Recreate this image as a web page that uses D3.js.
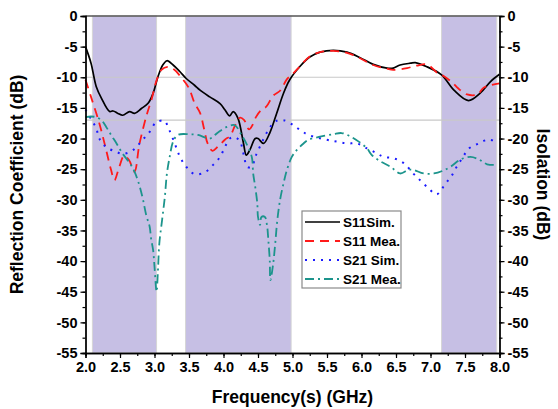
<!DOCTYPE html>
<html>
<head>
<meta charset="utf-8">
<script src="https://cdn.jsdelivr.net/npm/d3@7"></script>
<style>
  html, body { margin: 0; padding: 0; background: #fff; }
  svg { display: block; }
  text { font-family: "Liberation Sans", Arial, sans-serif; font-weight: bold; fill: #000; }
</style>
</head>
<body>
<svg id="chart" width="558" height="409"></svg>
<script>
// Frequency axis ticks (GHz) and dB ticks
const xTicks = [2.0, 2.5, 3.0, 3.5, 4.0, 4.5, 5.0, 5.5, 6.0, 6.5, 7.0, 7.5, 8.0];
const yTicks = [0, -5, -10, -15, -20, -25, -30, -35, -40, -45, -50, -55];

// Shaded operating bands [start, end] in GHz
const bands = [[2.1, 3.03], [3.45, 4.98], [7.16, 7.96]];
// Horizontal reference levels (dB)
const refLevels = [-10, -17];

// S11 simulated
const s11SimF = [2.00, 2.08, 2.155, 2.23, 2.35, 2.40, 2.47, 2.54, 2.64, 2.71, 2.81, 2.91, 2.98, 3.05, 3.12, 3.18, 3.27, 3.37, 3.46, 3.58, 3.66, 3.80, 3.95, 4.02, 4.09, 4.14, 4.21, 4.29, 4.33, 4.38, 4.46, 4.50, 4.58, 4.67, 4.77, 4.87, 4.96, 5.11, 5.25, 5.40, 5.59, 5.79, 5.98, 6.17, 6.37, 6.46, 6.56, 6.71, 6.78, 6.95, 7.16, 7.34, 7.55, 7.72, 7.87, 8.00];
const s11SimV = [-5.0, -7.7, -11.5, -13.4, -15.6, -15.5, -15.9, -16.2, -15.6, -15.9, -15.1, -14.2, -12.6, -9.9, -8.0, -7.3, -8.0, -9.1, -10.2, -11.3, -12.1, -13.2, -14.3, -15.3, -16.3, -15.6, -16.7, -20.8, -22.7, -21.9, -20.0, -20.0, -20.8, -19.1, -15.9, -12.6, -10.4, -8.2, -6.7, -5.9, -5.6, -5.9, -6.8, -7.9, -8.5, -8.5, -8.0, -7.7, -7.6, -8.3, -9.6, -12.1, -13.8, -12.6, -10.7, -9.5];

// S11 measured
const s11MeaF = [2.00, 2.08, 2.20, 2.30, 2.37, 2.42, 2.49, 2.56, 2.63, 2.71, 2.78, 2.88, 2.96, 3.03, 3.10, 3.19, 3.28, 3.40, 3.50, 3.58, 3.66, 3.72, 3.77, 3.84, 3.92, 4.02, 4.10, 4.17, 4.24, 4.30, 4.37, 4.42, 4.47, 4.55, 4.62, 4.72, 4.82, 4.92, 5.00, 5.10, 5.25, 5.40, 5.59, 5.79, 5.98, 6.17, 6.37, 6.46, 6.66, 6.80, 6.95, 7.10, 7.19, 7.32, 7.40, 7.53, 7.68, 7.77, 7.87, 8.00];
const s11MeaV = [-10.4, -13.2, -17.5, -21.9, -25.1, -26.8, -24.6, -22.8, -23.5, -25.4, -21.0, -16.4, -13.5, -10.5, -8.8, -8.3, -8.7, -10.2, -11.8, -14.2, -15.8, -18.5, -20.8, -22.0, -21.3, -20.2, -19.5, -17.8, -16.6, -17.0, -18.5, -17.8, -16.5, -15.3, -14.8, -13.0, -12.2, -10.3, -9.5, -8.3, -6.6, -5.9, -5.7, -6.0, -6.9, -8.0, -8.6, -8.8, -8.5, -8.1, -7.9, -9.3, -9.8, -10.9, -11.8, -12.8, -12.8, -11.7, -11.3, -11.0];

// S21 simulated
const s21SimF = [2.00, 2.08, 2.155, 2.20, 2.30, 2.43, 2.55, 2.70, 2.82, 2.93, 3.02, 3.14, 3.21, 3.32, 3.37, 3.46, 3.58, 3.73, 3.85, 3.95, 4.02, 4.09, 4.17, 4.24, 4.30, 4.34, 4.41, 4.46, 4.52, 4.65, 4.75, 4.87, 5.01, 5.11, 5.23, 5.50, 5.64, 5.79, 5.93, 6.08, 6.22, 6.32, 6.46, 6.61, 6.75, 6.84, 6.97, 7.09, 7.22, 7.31, 7.38, 7.46, 7.56, 7.70, 7.83, 7.97];
const s21SimV = [-15.3, -16.8, -18.3, -20.0, -21.4, -22.1, -22.5, -21.8, -20.3, -18.9, -17.4, -17.1, -18.5, -21.6, -23.0, -24.6, -25.8, -25.5, -24.3, -23.0, -21.4, -20.0, -19.8, -20.5, -23.0, -24.6, -24.6, -23.0, -21.5, -18.6, -17.2, -17.0, -17.8, -18.6, -19.4, -20.2, -20.5, -20.8, -20.8, -21.6, -22.4, -23.0, -23.2, -24.0, -25.7, -26.7, -28.1, -29.1, -27.3, -26.0, -24.6, -23.2, -21.6, -20.8, -20.2, -20.5];

// S21 measured
const s21MeaF = [2.00, 2.08, 2.15, 2.23, 2.30, 2.37, 2.45, 2.54, 2.64, 2.71, 2.78, 2.83, 2.88, 2.93, 2.95, 2.98, 3.00, 3.03, 3.05, 3.07, 3.11, 3.15, 3.18, 3.22, 3.27, 3.34, 3.51, 3.63, 3.80, 3.92, 4.05, 4.16, 4.26, 4.33, 4.41, 4.43, 4.46, 4.49, 4.50, 4.53, 4.55, 4.60, 4.63, 4.65, 4.67, 4.68, 4.72, 4.75, 4.78, 4.82, 4.87, 4.92, 4.99, 5.06, 5.16, 5.23, 5.40, 5.59, 5.71, 5.83, 5.96, 6.08, 6.15, 6.27, 6.42, 6.56, 6.68, 6.75, 6.90, 7.05, 7.17, 7.29, 7.44, 7.58, 7.70, 7.82, 7.97];
const s21MeaV = [-16.5, -16.4, -16.5, -17.0, -18.1, -19.4, -20.8, -22.5, -24.0, -25.4, -27.6, -29.8, -32.5, -34.4, -36.3, -38.2, -40.9, -45.0, -41.5, -37.1, -33.3, -29.5, -25.7, -23.0, -20.5, -19.4, -19.3, -19.4, -20.0, -19.0, -18.1, -17.8, -19.4, -20.8, -23.0, -25.7, -27.9, -30.6, -32.8, -34.1, -32.8, -32.8, -34.1, -36.6, -39.8, -43.1, -40.4, -37.1, -33.3, -30.0, -27.3, -25.1, -23.0, -21.9, -20.8, -20.2, -19.7, -19.3, -19.1, -19.6, -20.5, -21.6, -22.7, -23.7, -24.6, -25.7, -25.1, -25.1, -25.7, -25.7, -25.3, -24.6, -23.4, -23.0, -23.4, -24.2, -24.3];

const seriesNames = ["S11Sim.", "S11 Mea.", "S21 Sim.", "S21 Mea."];

const series = [
  { name: seriesNames[0], f: s11SimF, v: s11SimV, color: "#000000", width: 1.7, dash: null },
  { name: seriesNames[1], f: s11MeaF, v: s11MeaV, color: "#ff1a1a", width: 1.8, dash: "9,6" },
  { name: seriesNames[2], f: s21SimF, v: s21SimV, color: "#1a1aff", width: 2, dash: "2,6" },
  { name: seriesNames[3], f: s21MeaF, v: s21MeaV, color: "#1c948c", width: 1.8, dash: "9,4,2,4" }
];

const svg = d3.select("#chart");
const m = { left: 85.5, right: 499.5, top: 16, bottom: 353 };

const x = d3.scaleLinear().domain([2, 8]).range([m.left, m.right]);
const y = d3.scaleLinear().domain([-55, 0]).range([m.bottom, m.top]);

// bands
svg.append("g").selectAll("rect").data(bands).join("rect")
  .attr("x", d => x(d[0]))
  .attr("y", m.top)
  .attr("width", d => x(d[1]) - x(d[0]))
  .attr("height", m.bottom - m.top)
  .attr("fill", "#c6bfe4")
  .attr("stroke", "#d6d6d6")
  .attr("stroke-width", 1);

// reference lines
svg.append("g").selectAll("line").data(refLevels).join("line")
  .attr("x1", m.left).attr("x2", m.right)
  .attr("y1", d => y(d)).attr("y2", d => y(d))
  .attr("stroke", "#c8c8c8").attr("stroke-width", 1.2);

// curves
const line = d3.line().curve(d3.curveCatmullRom.alpha(0.5));
const plot = svg.append("g");
series.forEach(s => {
  const pts = s.f.map((f, i) => [x(f), y(s.v[i])]);
  plot.append("path")
    .attr("d", line(pts))
    .attr("fill", "none")
    .attr("stroke", s.color)
    .attr("stroke-width", s.width)
    .attr("stroke-dasharray", s.dash)
    .attr("stroke-linejoin", "round");
});

// frame top line
svg.append("line")
  .attr("x1", m.left).attr("x2", m.right)
  .attr("y1", m.top).attr("y2", m.top)
  .attr("stroke", "#555").attr("stroke-width", 1.3);

// axes
const fmtX = d3.format(".1f");
const minorX = d3.range(2, 8.01, 0.25);
const minorY = d3.range(-55, 0.01, 2.5);

function styleAxis(g) {
  g.selectAll(".domain").attr("stroke", "#000").attr("stroke-width", 1.3);
  g.selectAll(".tick line").attr("stroke", "#000").attr("stroke-width", 1.2);
  g.selectAll("text").attr("font-size", "14.5px")
    .style("font-family", "'Liberation Sans', Arial, sans-serif").style("font-weight", "bold");
}

// minor ticks
svg.append("g").attr("transform", `translate(0,${m.bottom})`)
  .call(d3.axisBottom(x).tickValues(minorX).tickSize(3).tickFormat(""))
  .call(styleAxis);
svg.append("g").attr("transform", `translate(${m.left},0)`)
  .call(d3.axisLeft(y).tickValues(minorY).tickSize(3).tickFormat(""))
  .call(styleAxis);
svg.append("g").attr("transform", `translate(${m.right},0)`)
  .call(d3.axisRight(y).tickValues(minorY).tickSize(3).tickFormat(""))
  .call(styleAxis);

// major ticks
svg.append("g").attr("transform", `translate(0,${m.bottom})`)
  .call(d3.axisBottom(x).tickValues(xTicks).tickSize(5).tickPadding(4).tickFormat(fmtX))
  .call(styleAxis);
svg.append("g").attr("transform", `translate(${m.left},0)`)
  .call(d3.axisLeft(y).tickValues(yTicks).tickSize(5).tickPadding(3).tickFormat(d => d))
  .call(styleAxis);
svg.append("g").attr("transform", `translate(${m.right},0)`)
  .call(d3.axisRight(y).tickValues(yTicks).tickSize(5).tickPadding(3).tickFormat(d => d))
  .call(styleAxis);

// axis titles
const midY = (m.top + m.bottom) / 2;
svg.append("text")
  .attr("transform", `translate(23,${midY}) rotate(-90)`)
  .attr("text-anchor", "middle").attr("font-size", "17.5px")
  .text("Reflection Coefficient (dB)");
svg.append("text")
  .attr("transform", `translate(537,${midY}) rotate(90)`)
  .attr("text-anchor", "middle").attr("font-size", "17.5px")
  .text("Isolation (dB)");
svg.append("text")
  .attr("x", (m.left + m.right) / 2).attr("y", 403)
  .attr("text-anchor", "middle").attr("font-size", "17.5px")
  .text("Frequency(s) (GHz)");

// legend
const lg = svg.append("g").attr("transform", "translate(302,211)");
lg.append("rect").attr("width", 99).attr("height", 77)
  .attr("fill", "#fff").attr("stroke", "#8a8a8a").attr("stroke-width", 1.2);
series.forEach((s, i) => {
  const ly = 11 + i * 19;
  lg.append("line").attr("x1", 3).attr("x2", 38).attr("y1", ly).attr("y2", ly)
    .attr("stroke", s.color).attr("stroke-width", s.width).attr("stroke-dasharray", s.dash);
  lg.append("text").attr("x", 41).attr("y", ly + 5).attr("font-size", "13.5px").text(s.name);
});
</script>
</body>
</html>
